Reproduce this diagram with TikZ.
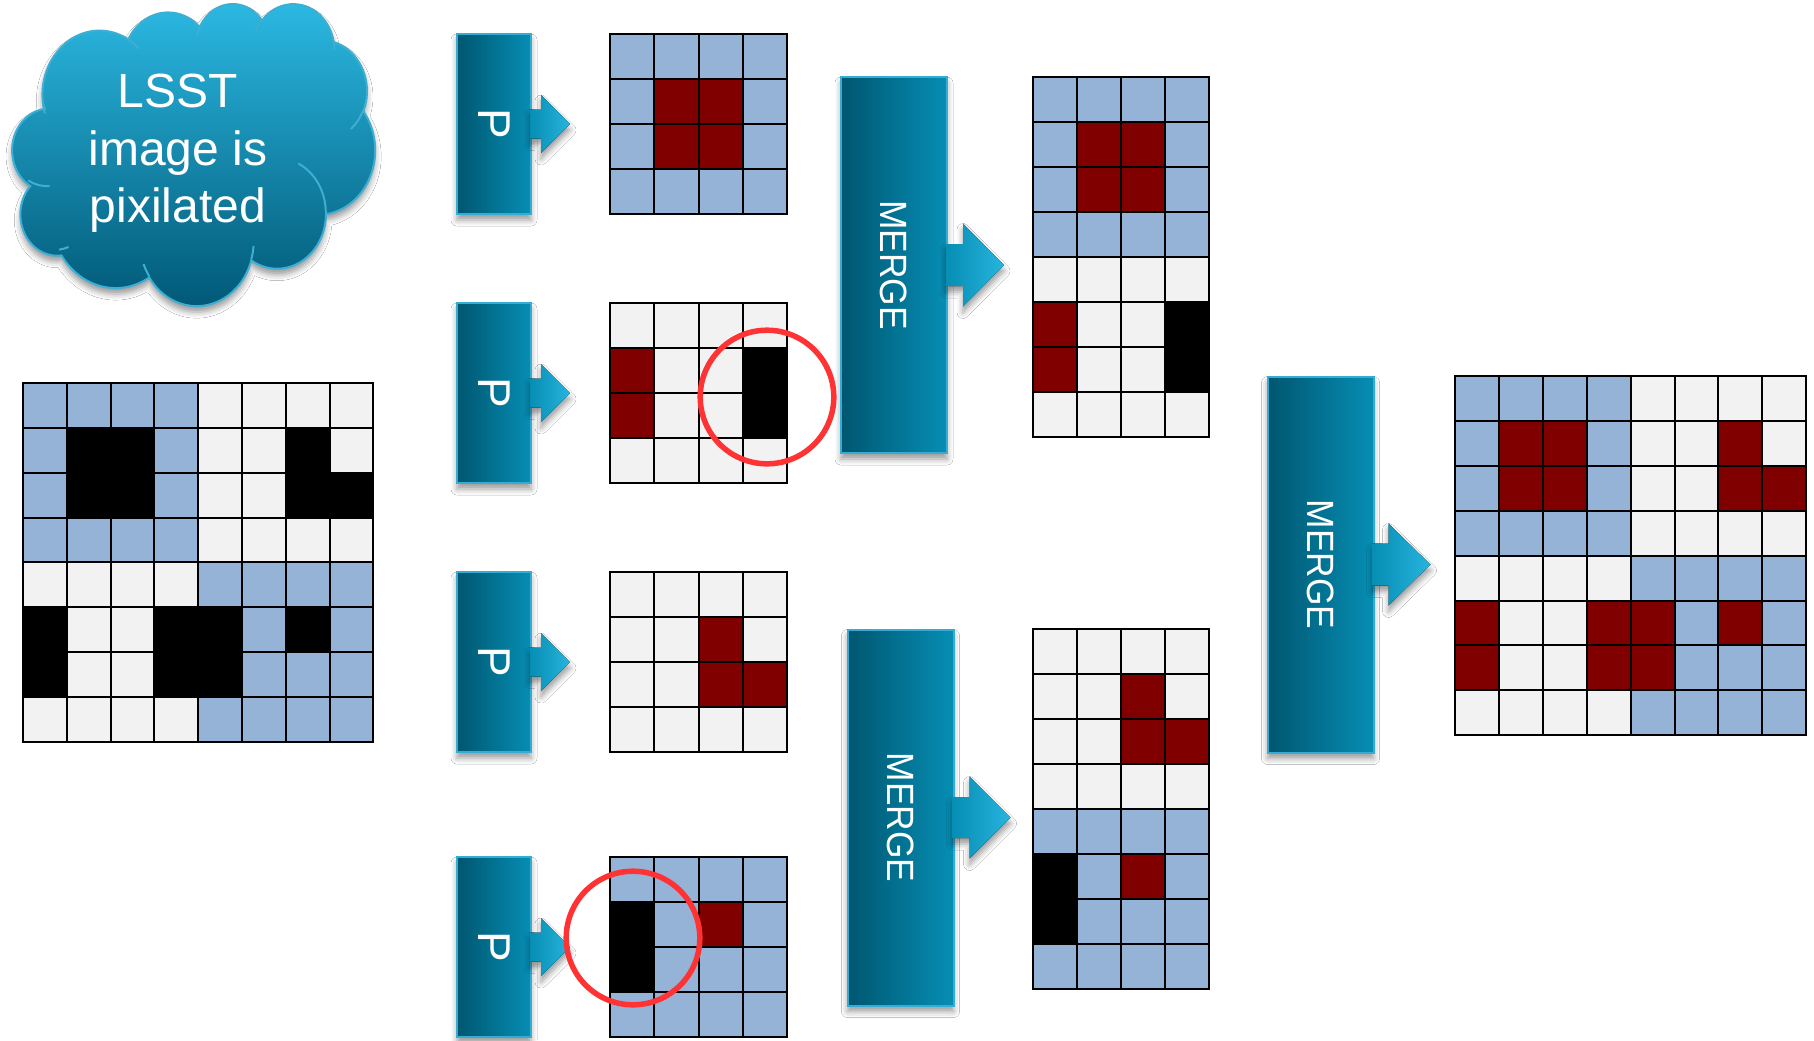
\documentclass[tikz,border=0pt]{standalone}
\usepackage{fontspec}
\setmainfont{Liberation Sans}
\usepackage{graphicx}
\usetikzlibrary{shadows.blur}
\definecolor{cellB}{RGB}{149,179,215}
\definecolor{cellR}{RGB}{128,0,0}
\definecolor{cellW}{RGB}{242,242,242}
\definecolor{cellK}{RGB}{0,0,0}
\definecolor{boxL}{RGB}{0,86,112}
\definecolor{boxR}{RGB}{6,142,180}
\definecolor{arrowTip}{RGB}{40,180,222}
\definecolor{boxEdge}{RGB}{52,172,212}
\definecolor{cloudTop}{RGB}{44,186,228}
\definecolor{cloudBot}{RGB}{0,86,116}
\definecolor{cloudEdge}{RGB}{62,174,210}
\definecolor{ringRed}{RGB}{255,51,51}
\tikzset{
  cellbox/.style={draw=black, line width=1pt},
  softshadow/.style={blur shadow={shadow xshift=0pt, shadow yshift=-3pt, shadow blur radius=3pt, shadow opacity=40}},
  procbox/.style={rectangle, inner sep=0pt, left color=boxL, right color=boxR, draw=boxEdge, line width=1pt, softshadow},
  pbox/.style={procbox, minimum width=37pt, minimum height=90pt},
  mbox/.style={procbox, minimum width=53pt, minimum height=188pt},
  blockarrow/.style={left color=boxR, right color=arrowTip, softshadow},
  boxlabel/.style={text=white, rotate=-90, inner sep=0pt},
  plabel/.style={boxlabel, font=\fontsize{23}{27}\selectfont},
  mlabel/.style={boxlabel, font=\fontsize{19}{23}\selectfont},
  cloudtext/.style={text=white, anchor=base, inner sep=0pt, font=\fontsize{24}{28}\selectfont},
  ring/.style={draw=ringRed, line width=2.75pt},
}
% #1 name, #2 x0, #3 y0, #4 cell w, #5 cell h, #6 rows
\newcommand\pixgrid[6]{%
  \coordinate (#1) at (#2,#3);
  \foreach \grow [count=\gr] in {#6} {
    \foreach \gcol [count=\gk] in \grow {
      \path[cellbox, fill=cell\gcol] ({#2+(\gk-1)*#4},{#3+(\gr-1)*#5}) rectangle ++(#4,#5);
    }
  }
}
% #1 node, #2 shaft length, #3 head length, #4 shaft half height, #5 head half height
\newcommand\blockarr[5]{%
  \fill[blockarrow] ([xshift=-1pt]#1.east) ++(0,-#4) -- ++({#2+2},0) -- ++(0,{-(#5-#4)})
    -- ++(#3,#5) -- ++(-#3,#5) -- ++(0,{-(#5-#4)}) -- ++({-#2-2},0) -- cycle;
}
\begin{document}
\begin{tikzpicture}[x=0.5pt, y=-0.5pt]
\path[use as bounding box, fill=white] (0,0) rectangle (1814,1040);

% cloud
\begin{scope}[shift={(10,3)}, x=1.825pt, y=-1.51pt]
\draw[draw=cloudEdge, line width=1pt, top color=cloudTop, bottom color=cloudBot, softshadow]
 (9.028,33.264)
 arc[start angle=172.26, end angle=300.37, x radius=15.632, y radius=21.273]
 arc[start angle=-152.02, end angle=-45.43, x radius=12.345, y radius=16.822]
 arc[start angle=-153.48, end angle=-37.33, x radius=10.104, y radius=13.762]
 arc[start angle=-139.70, end angle=-10.21, x radius=11.243, y radius=15.266]
 arc[start angle=-74.77, end angle=23.21, x radius=12.345, y radius=16.836]
 arc[start angle=-37.52, end angle=81.86, x radius=15.683, y radius=21.343]
 arc[start angle=0.46, end angle=121.98, x radius=13.391, y radius=18.211]
 arc[start angle=16.84, end angle=146.25, x radius=15.630, y radius=21.331]
 arc[start angle=58.98, end angle=146.14, x radius=17.870, y radius=24.405]
 arc[start angle=83.31, end angle=223.09, x radius=10.093, y radius=13.699]
 arc[start angle=120.36, end angle=264.11, x radius=10.058, y radius=13.762]
 -- cycle;
\draw[cloudEdge, line width=1pt]
 (10.863,60.595) arc[start angle=85.55, end angle=120.36, x radius=10.058, y radius=13.762]
 (16.037,80.785) arc[start angle=68.24, end angle=83.31, x radius=10.093, y radius=13.699]
 (38.144,90.486) arc[start angle=146.25, end angle=158.47, x radius=15.630, y radius=21.331]
 (66.729,80.442) arc[start angle=4.74, end angle=16.84, x radius=15.630, y radius=21.331]
 (79.002,53.134) arc[start angle=-64.03, end angle=0.46, x radius=13.391, y radius=18.211]
 (96.755,35.542) arc[start angle=23.21, end angle=49.63, x radius=12.345, y radius=16.836]
 (88.713,12.560) arc[start angle=-10.21, end angle=0.82, x radius=11.243, y radius=15.266]
 (67.310,9.148) arc[start angle=-156.29, end angle=-139.70, x radius=11.243, y radius=15.266]
 (51.252,10.926) arc[start angle=-167.73, end angle=-153.48, x radius=10.104, y radius=13.762]
 (32.407,12.019) arc[start angle=-59.63, end angle=-45.71, x radius=15.632, y radius=21.273]
 (9.553,36.549) arc[start angle=163.19, end angle=172.26, x radius=15.632, y radius=21.273];
\end{scope}
\node[cloudtext] (cl1) at (178,107) {LSST};
\node[cloudtext] (cl2) at (178,165) {image is};
\node[cloudtext] (cl3) at (178,222) {pixilated};

% grids
\pixgrid{big}{23}{383}{43.8}{44.85}{{B,B,B,B,W,W,W,W},{B,K,K,B,W,W,K,W},{B,K,K,B,W,W,K,K},{B,B,B,B,W,W,W,W},{W,W,W,W,B,B,B,B},{K,W,W,K,K,B,K,B},{K,W,W,K,K,B,B,B},{W,W,W,W,B,B,B,B}}
\pixgrid{g1}{610}{34}{44.25}{45}{{B,B,B,B},{B,R,R,B},{B,R,R,B},{B,B,B,B}}
\pixgrid{g2}{610}{303}{44.25}{45}{{W,W,W,W},{R,W,W,K},{R,W,W,K},{W,W,W,W}}
\pixgrid{g3}{610}{572}{44.25}{45}{{W,W,W,W},{W,W,R,W},{W,W,R,R},{W,W,W,W}}
\pixgrid{g4}{610}{857}{44.25}{45}{{B,B,B,B},{K,B,R,B},{K,B,B,B},{B,B,B,B}}
\pixgrid{m1}{1033}{77}{44}{45}{{B,B,B,B},{B,R,R,B},{B,R,R,B},{B,B,B,B},{W,W,W,W},{R,W,W,K},{R,W,W,K},{W,W,W,W}}
\pixgrid{m2}{1033}{629}{44}{45}{{W,W,W,W},{W,W,R,W},{W,W,R,R},{W,W,W,W},{B,B,B,B},{K,B,R,B},{K,B,B,B},{B,B,B,B}}
\pixgrid{fin}{1455}{376}{43.9}{44.9}{{B,B,B,B,W,W,W,W},{B,R,R,B,W,W,R,W},{B,R,R,B,W,W,R,R},{B,B,B,B,W,W,W,W},{W,W,W,W,B,B,B,B},{R,W,W,R,R,B,R,B},{R,W,W,R,R,B,B,B},{W,W,W,W,B,B,B,B}}

% process boxes
\node[pbox] (p1) at (494,124) {};
\node[pbox] (p2) at (494,393) {};
\node[pbox] (p3) at (494,662) {};
\node[pbox] (p4) at (494,947) {};
\node[mbox] (mg1) at (894,265) {};
\node[mbox] (mg2) at (900.5,817.5) {};
\node[mbox] (mg3) at (1320.5,564.5) {};

\blockarr{p1}{9}{29}{14.5}{29}
\blockarr{p2}{9}{29}{14.5}{29}
\blockarr{p3}{9}{29}{14.5}{29}
\blockarr{p4}{9}{29}{14.5}{29}
\blockarr{mg1}{15}{41}{21}{41.5}
\blockarr{mg2}{15}{41}{20.5}{41}
\blockarr{mg3}{14}{42}{21}{41}

\node[plabel] (p1t) at (p1) {P};
\node[plabel] (p2t) at (p2) {P};
\node[plabel] (p3t) at (p3) {P};
\node[plabel] (p4t) at (p4) {P};
\node[mlabel] (mg1t) at (mg1) {\scalebox{0.93}[1]{MERGE}};
\node[mlabel] (mg2t) at (mg2) {\scalebox{0.93}[1]{MERGE}};
\node[mlabel] (mg3t) at (mg3) {\scalebox{0.93}[1]{MERGE}};

% red rings
\coordinate (ring1) at (767,397);
\coordinate (ring2) at (633,938);
\draw[ring] (ring1) circle[radius=33.4pt];
\draw[ring] (ring2) circle[radius=33.4pt];
\end{tikzpicture}
\end{document}
